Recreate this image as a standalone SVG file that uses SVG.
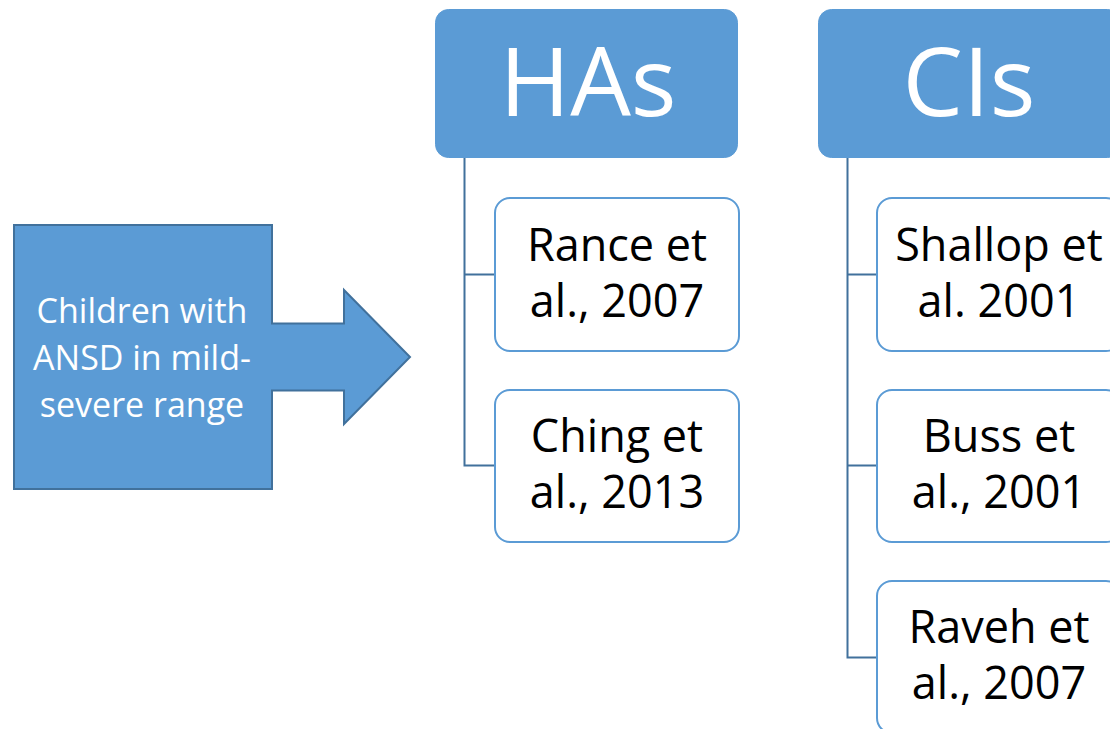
<svg xmlns="http://www.w3.org/2000/svg" width="1110" height="729" viewBox="0 0 1110 729">
  <style>
    .head { fill: #5B9BD5; stroke: #5B9BD5; stroke-width: 1; }
    .head-text { font-family: "Open Sans", "Noto Sans", sans-serif; font-size: 96px; fill: #FFFFFF; text-anchor: middle; }
    .child { fill: #FFFFFF; stroke: #5B9BD5; stroke-width: 2; }
    .child-text { font-family: "Open Sans", "Noto Sans", sans-serif; font-size: 45px; fill: #000000; text-anchor: middle; }
    .arrow { fill: #5B9BD5; stroke: #41719C; stroke-width: 2; }
    .arrow-text { font-family: "Open Sans", "Noto Sans", sans-serif; font-size: 34px; fill: #FFFFFF; text-anchor: middle; }
    .conn { fill: none; stroke: #41719C; stroke-width: 2; }
  </style>
  <rect width="1110" height="729" fill="#FFFFFF"/>

  <!-- tree connectors -->
  <g id="connectors">
    <path class="conn" d="M464.5,158 V465.5 H495 M464.5,274.5 H495"/>
    <path class="conn" d="M847.5,158 V657.5 H877 M847.5,274.5 H877 M847.5,465.5 H877"/>
  </g>

  <!-- callout arrow -->
  <g id="population">
    <path class="arrow" d="M14,225 H272 V323.5 H344 V290 L410,357 L344,424 V390.5 H272 V489 H14 Z"/>
    <text class="arrow-text" x="142" y="323">Children with</text>
    <text class="arrow-text" x="142" y="370">ANSD in mild-</text>
    <text class="arrow-text" x="142" y="417">severe range</text>
  </g>

  <!-- hearing aids branch -->
  <g id="has">
    <rect class="head" x="435.5" y="9.5" width="302" height="148" rx="13"/>
    <text class="head-text" x="588" y="116">HAs</text>
  </g>
  <g id="rance">
    <rect class="child" x="495" y="198" width="244" height="153" rx="15"/>
    <text class="child-text" x="617" y="261">Rance et</text>
    <text class="child-text" x="617" y="317">al., 2007</text>
  </g>
  <g id="ching">
    <rect class="child" x="495" y="390" width="244" height="152" rx="15"/>
    <text class="child-text" x="617" y="452">Ching et</text>
    <text class="child-text" x="617" y="508">al., 2013</text>
  </g>

  <!-- cochlear implants branch -->
  <g id="cis">
    <rect class="head" x="818.5" y="9.5" width="302" height="148" rx="13"/>
    <text class="head-text" x="969" y="116">CIs</text>
  </g>
  <g id="shallop">
    <rect class="child" x="877" y="198" width="244" height="153" rx="15"/>
    <text class="child-text" x="999" y="261">Shallop et</text>
    <text class="child-text" x="999" y="317">al. 2001</text>
  </g>
  <g id="buss">
    <rect class="child" x="877" y="390" width="244" height="152" rx="15"/>
    <text class="child-text" x="999" y="452">Buss et</text>
    <text class="child-text" x="999" y="508">al., 2001</text>
  </g>
  <g id="raveh">
    <rect class="child" x="877" y="581" width="244" height="152" rx="15"/>
    <text class="child-text" x="999" y="643">Raveh et</text>
    <text class="child-text" x="999" y="699">al., 2007</text>
  </g>
</svg>
